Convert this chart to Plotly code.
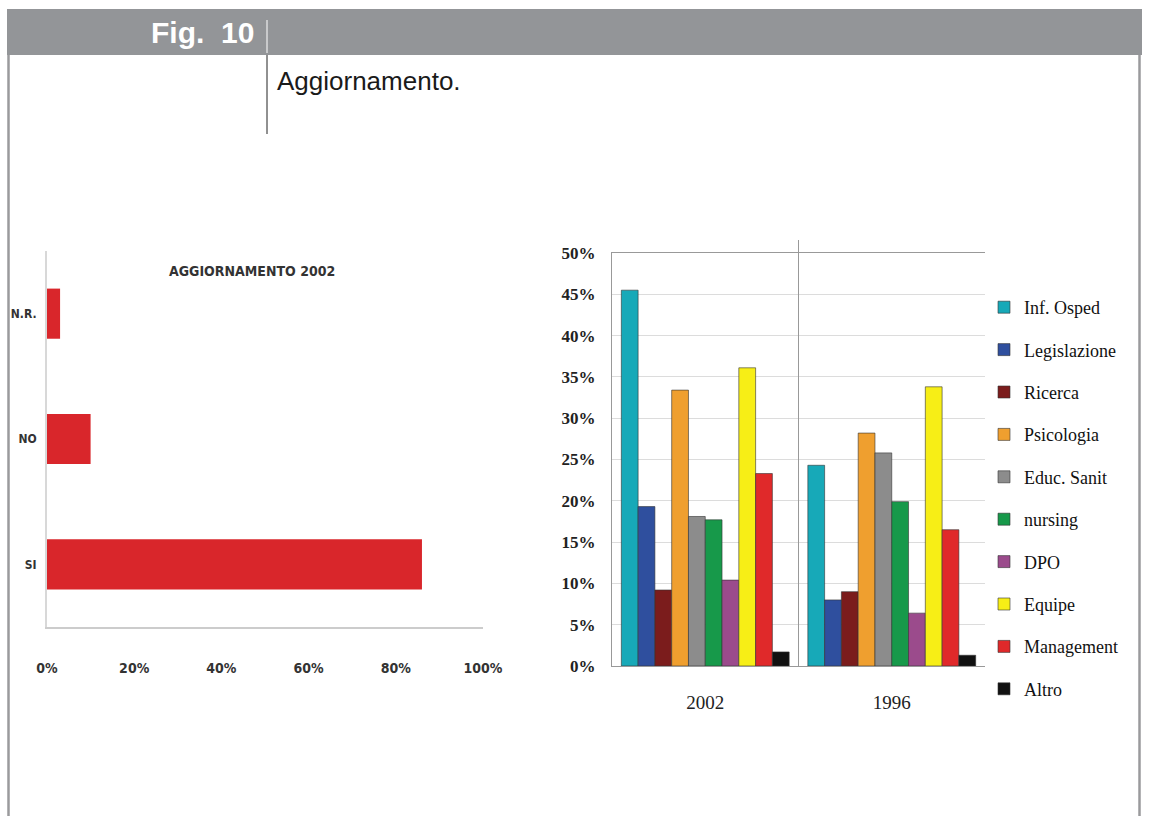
import plotly.graph_objects as go

W, H = 1149, 816

# ---- data ----
left_categories = ["SI", "NO", "N.R."]
left_values = [86, 10, 3]

years = ["2002", "1996"]
topics = ["Inf. Osped", "Legislazione", "Ricerca", "Psicologia", "Educ. Sanit",
          "nursing", "DPO", "Equipe", "Management", "Altro"]
values_2002 = [45.5, 19.3, 9.2, 33.4, 18.1, 17.7, 10.4, 36.1, 23.3, 1.7]
values_1996 = [24.3, 8.0, 9.0, 28.2, 25.8, 19.9, 6.4, 33.8, 16.5, 1.3]
topic_colors = ["#17a9b8", "#2f4f9e", "#7b1c1c", "#ef9f2f", "#8c8c8c",
                "#17994a", "#9b4b8c", "#f7ee16", "#e0292a", "#111111"]

left_ticks = [0, 20, 40, 60, 80, 100]
right_ticks = [0, 5, 10, 15, 20, 25, 30, 35, 40, 45, 50]


def px(x):
    return x / W


def py(y):
    return 1 - y / H


fig = go.Figure()

# left horizontal bar chart
fig.add_trace(go.Bar(
    x=left_values, y=left_categories, orientation="h",
    marker=dict(color="#d9262b", line=dict(width=0)),
    width=0.4, showlegend=False, xaxis="x", yaxis="y",
))

# right grouped bar chart
for i, t in enumerate(topics):
    fig.add_trace(go.Bar(
        x=years, y=[values_2002[i], values_1996[i]], name=t,
        marker=dict(color=topic_colors[i], line=dict(color="#333333", width=0.6)),
        xaxis="x2", yaxis="y2", legendgroup=t,
    ))

serif = "Liberation Serif"
narrow = "Liberation Sans Narrow, DejaVu Sans Condensed, sans-serif"

fig.update_layout(
    width=W, height=H, autosize=False,
    margin=dict(l=0, r=0, t=0, b=0, pad=0, autoexpand=False),
    paper_bgcolor="white", plot_bgcolor="white",
    barmode="group", bargap=0.1, bargroupgap=0,
    xaxis=dict(domain=[px(47), px(483)], range=[0, 100], tickvals=left_ticks,
               ticktext=[f"<b>{v}%</b>" for v in left_ticks], showgrid=False,
               showline=True, linecolor="#cccccc", linewidth=2, zeroline=False,
               ticks="", ticklabelstandoff=27, automargin=False,
               tickfont=dict(family=narrow, size=14, color="#333333")),
    yaxis=dict(domain=[py(627), py(251)], showgrid=False, showline=True,
               linecolor="#d8d8d8", linewidth=2, ticks="", automargin=False,
               ticklabelstandoff=6,
               tickfont=dict(family=narrow, size=12, color="#333333"),
               tickvals=left_categories,
               ticktext=[f"<b>{c}</b>" for c in left_categories]),
    xaxis2=dict(domain=[px(612), px(985)], anchor="y2", showgrid=False,
                showline=True, linecolor="#999999", linewidth=1, mirror=True,
                ticks="", ticklabelstandoff=19, automargin=False,
                tickfont=dict(family=serif, size=19, color="#222222")),
    yaxis2=dict(domain=[py(666), py(253)], anchor="x2", range=[0, 50],
                tickvals=right_ticks, ticktext=[f"<b>{v}%</b>" for v in right_ticks],
                showgrid=True, gridcolor="#dcdcdc", gridwidth=1, automargin=False,
                showline=True, linecolor="#999999", linewidth=1, zeroline=False,
                ticks="", ticklabelstandoff=12,
                tickfont=dict(family=serif, size=17, color="#222222")),
    legend=dict(x=px(984), y=py(289), xanchor="left", yanchor="top",
                font=dict(family=serif, size=18, color="#111111"),
                tracegroupgap=16, itemwidth=30, bgcolor="rgba(0,0,0,0)"),
    shapes=[
        # header band
        dict(type="rect", xref="paper", yref="paper", x0=px(7), x1=px(1142),
             y0=py(55), y1=py(9), fillcolor="#939598", line=dict(width=0), layer="below"),
        # white separator in header
        dict(type="line", xref="paper", yref="paper", x0=px(267), x1=px(267),
             y0=py(53), y1=py(20), line=dict(color="white", width=1)),
        # black separator below header
        dict(type="line", xref="paper", yref="paper", x0=px(267), x1=px(267),
             y0=py(134), y1=py(55), line=dict(color="#222222", width=1)),
        # side borders
        dict(type="line", xref="paper", yref="paper", x0=px(8.5), x1=px(8.5),
             y0=0, y1=py(55), line=dict(color="#9a9a9c", width=2.5)),
        dict(type="line", xref="paper", yref="paper", x0=px(1139.5), x1=px(1139.5),
             y0=0, y1=py(55), line=dict(color="#9a9a9c", width=2.5)),
        # category divider on right chart
        dict(type="line", xref="x2", yref="paper", x0=0.5, x1=0.5,
             y0=py(666), y1=py(240), line=dict(color="#999999", width=1)),
    ],
    annotations=[
        dict(text="<b>Fig.&nbsp;&nbsp;10</b>", xref="paper", yref="paper", x=px(256), y=py(33),
             xanchor="right", yanchor="middle", showarrow=False,
             font=dict(family="Liberation Sans", size=30, color="white")),
        dict(text="Aggiornamento.", xref="paper", yref="paper", x=px(275), y=py(81),
             xanchor="left", yanchor="middle", showarrow=False,
             font=dict(family="Liberation Sans", size=26, color="#1a1a1a")),
        dict(text="<b>AGGIORNAMENTO 2002</b>", xref="paper", yref="paper", x=px(252), y=py(271),
             xanchor="center", yanchor="middle", showarrow=False,
             font=dict(family=narrow, size=14, color="#333333")),
    ],
)

fig.write_html(
    "out.html",
    config={"displayModeBar": False},
    post_script="document.body.style.margin='0';document.body.style.overflow='hidden';",
)
